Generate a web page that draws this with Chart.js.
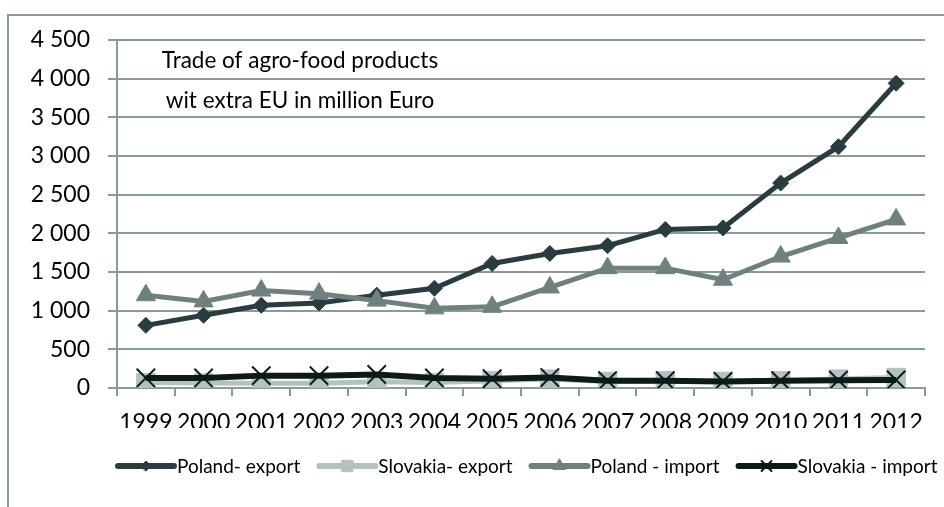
<!DOCTYPE html>
<html>
<head>
<meta charset="utf-8">
<script src="https://cdn.jsdelivr.net/npm/chart.js@4/dist/chart.umd.min.js"></script>
<style>
  html, body { margin: 0; padding: 0; background: #ffffff; }
  #wrap { width: 944px; height: 507px; }
</style>
</head>
<body>
<div id="wrap"><canvas id="c" width="944" height="507"></canvas></div>
<script>
// Agro-food trade with countries outside the EU, million Euro
const years = ['1999','2000','2001','2002','2003','2004','2005','2006','2007','2008','2009','2010','2011','2012'];
const polandExport   = [810, 940, 1070, 1100, 1200, 1290, 1610, 1740, 1840, 2050, 2070, 2650, 3120, 3940];
const slovakiaExport = [70, 65, 60, 60, 80, 70, 95, 115, 85, 95, 85, 95, 115, 135];
const polandImport   = [1200, 1120, 1260, 1220, 1130, 1030, 1050, 1300, 1550, 1550, 1400, 1700, 1940, 2180];
const slovakiaImport = [130, 130, 160, 160, 175, 130, 120, 135, 95, 95, 85, 95, 100, 105];
const yTickLabels = ['0', '500', '1 000', '1 500', '2 000', '2 500', '3 000', '3 500', '4 000', '4 500'];
const seriesNames = ['Poland- export', 'Slovakia- export', 'Poland - import', 'Slovakia - import'];
const titleLines = ['Trade of agro-food products', 'wit extra EU in million Euro'];

const FONT = 'Lato, "Noto Sans", sans-serif';
const GRID = '#899b99';

const styles = [
  { color: '#2b3c3e', point: 'rectRot',  radius: 8,  legendRadius: 5, width: 5, pointBorder: 1 },
  { color: '#b5c1be', point: 'rect',     radius: 13, legendRadius: 8, width: 5, pointBorder: 1 },
  { color: '#6f807e', point: 'triangle', radius: 11, legendRadius: 7, width: 5, pointBorder: 1 },
  { color: '#0d1a1a', point: 'crossRot', radius: 13, legendRadius: 7, width: 6, pointBorder: 2 }
];
const seriesData = [polandExport, slovakiaExport, polandImport, slovakiaImport];

const datasets = seriesData.map((d, i) => ({
  label: seriesNames[i],
  data: d,
  borderColor: styles[i].color,
  backgroundColor: styles[i].color,
  borderWidth: styles[i].width,
  pointStyle: styles[i].point,
  pointRadius: styles[i].radius,
  pointHoverRadius: styles[i].radius,
  pointBorderWidth: styles[i].pointBorder,
  pointBackgroundColor: styles[i].color,
  pointBorderColor: styles[i].color,
  tension: 0,
  // later series are painted over earlier ones
  order: seriesData.length - i
}));

// outer frame of the chart object
const framePlugin = {
  id: 'frame',
  beforeDraw(chart) {
    const ctx = chart.ctx;
    ctx.save();
    ctx.strokeStyle = GRID;
    ctx.lineWidth = 2;
    ctx.strokeRect(8, 15, 1000, 600);
    ctx.restore();
  }
};

// two-line caption inside the plot
const captionPlugin = {
  id: 'caption',
  afterDatasetsDraw(chart) {
    const ctx = chart.ctx;
    ctx.save();
    ctx.fillStyle = '#000000';
    ctx.font = '22.5px ' + FONT;
    ctx.textAlign = 'center';
    ctx.textBaseline = 'alphabetic';
    ctx.fillText(titleLines[0], 300, 68);
    ctx.fillText(titleLines[1], 300, 108);
    ctx.restore();
  }
};

// legend row: line sample with marker, then the series name
const legendPlugin = {
  id: 'lineLegend',
  afterDraw(chart) {
    const ctx = chart.ctx;
    const y = 466;
    let x = 118;
    ctx.save();
    ctx.font = '19px ' + FONT;
    ctx.textBaseline = 'middle';
    ctx.textAlign = 'left';
    seriesNames.forEach((name, i) => {
      const s = styles[i];
      ctx.strokeStyle = s.color;
      ctx.lineWidth = 6;
      ctx.lineCap = 'round';
      ctx.beginPath();
      ctx.moveTo(x, y);
      ctx.lineTo(x + 56, y);
      ctx.stroke();
      ctx.fillStyle = s.color;
      ctx.lineWidth = s.pointBorder;
      Chart.helpers.drawPoint(ctx, { pointStyle: s.point, radius: s.legendRadius, borderWidth: s.pointBorder, rotation: 0 }, x + 28, y);
      ctx.fillStyle = '#000000';
      ctx.fillText(name, x + 59, y + 1);
      x += 59 + ctx.measureText(name).width + 19;
    });
    ctx.restore();
  }
};

new Chart(document.getElementById('c'), {
  type: 'line',
  data: { labels: years, datasets },
  options: {
    responsive: false,
    animation: false,
    devicePixelRatio: 1,
    layout: { padding: { left: 0, right: 19, top: 40, bottom: 79 } },
    plugins: {
      legend: { display: false },
      tooltip: { enabled: false },
      title: { display: false }
    },
    scales: {
      x: {
        offset: true,
        grid: { offset: true, drawOnChartArea: false, color: GRID, lineWidth: 2, tickLength: 8 },
        border: { display: true, color: GRID, width: 2 },
        ticks: { color: '#000000', font: { family: FONT, size: 23 }, padding: 13, maxRotation: 0, autoSkip: false },
        afterFit(scale) { scale.height = 40; scale.paddingLeft = 0; scale.paddingRight = 0; }
      },
      y: {
        min: 0,
        max: 4500,
        grid: { color: GRID, lineWidth: 2, tickLength: 9 },
        border: { display: true, color: GRID, width: 2 },
        ticks: {
          stepSize: 500,
          color: '#000000',
          font: { family: FONT, size: 23 },
          padding: 18,
          callback: (v) => yTickLabels[Math.round(v / 500)]
        },
        afterFit(scale) { scale.width = 117; scale.paddingTop = 0; scale.paddingBottom = 0; }
      }
    }
  },
  plugins: [framePlugin, captionPlugin, legendPlugin]
});
</script>
</body>
</html>
